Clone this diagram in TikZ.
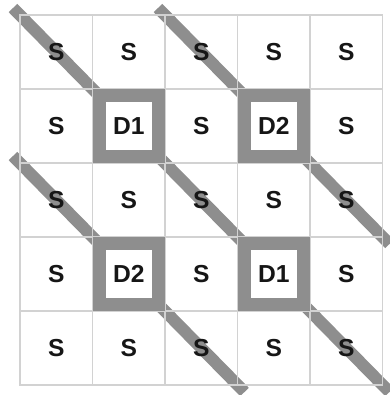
\documentclass[tikz,border=0pt]{standalone}
\usepackage{fontspec}
\setsansfont{Liberation Sans}
\usetikzlibrary{calc,backgrounds}
\definecolor{ink}{HTML}{161616}
\definecolor{band}{HTML}{8E8E8E}
\definecolor{rule}{HTML}{D2D2D2}

\begin{document}
\begin{tikzpicture}[line join=miter,font=\sffamily\bfseries\fontsize{7}{8}\selectfont]
  \tikzset{
    cell/.style={draw=rule,line width=0.4pt,minimum width=0.725cm,minimum height=0.74cm,inner sep=0pt,outer sep=0pt,text=ink},
    frame/.style={draw=band,line width=0.13cm,minimum width=0.595cm,minimum height=0.61cm,inner sep=0pt,outer sep=0pt},
    strip/.style={band,line width=0.12cm}
  }
  \useasboundingbox (0,0) rectangle (3.90,3.95);

  % Grid of cells.
  \foreach \r/\row in {1/{S,S,S,S,S},2/{S,D1,S,D2,S},3/{S,S,S,S,S},4/{S,D2,S,D1,S},5/{S,S,S,S,S}}
    \foreach \t [count=\c] in \row
      \node[cell] (c-\r-\c) at ({0.2+0.725*(\c-0.5)},{3.80-0.74*(\r-0.5)}) {\t};

  % Frames round the D cells.
  \foreach \r/\c in {2/2,2/4,4/2,4/4}
    \node[frame] (f-\r-\c) at (c-\r-\c) {};

  % Diagonal strips.
  \begin{scope}[on background layer]
    \coordinate (s1) at ($(c-1-1.north west)+(-0.07,0.07)$);
    \coordinate (s2) at ($(c-1-3.north west)+(-0.07,0.07)$);
    \coordinate (s3) at ($(c-3-1.north west)+(-0.07,0.07)$);
    \coordinate (e1) at ($(c-5-5.south east)+(0.07,-0.07)$);
    \coordinate (e2) at ($(c-3-5.south east)+(0.07,-0.07)$);
    \coordinate (e3) at ($(c-5-3.south east)+(0.07,-0.07)$);
    \draw[strip] (s1) -- (f-2-2.north west);
    \draw[strip] (f-2-2.south east) -- (f-4-4.north west);
    \draw[strip] (f-4-4.south east) -- (e1);
    \draw[strip] (s2) -- (f-2-4.north west);
    \draw[strip] (f-2-4.south east) -- (e2);
    \draw[strip] (s3) -- (f-4-2.north west);
    \draw[strip] (f-4-2.south east) -- (e3);
  \end{scope}
\end{tikzpicture}
\end{document}
